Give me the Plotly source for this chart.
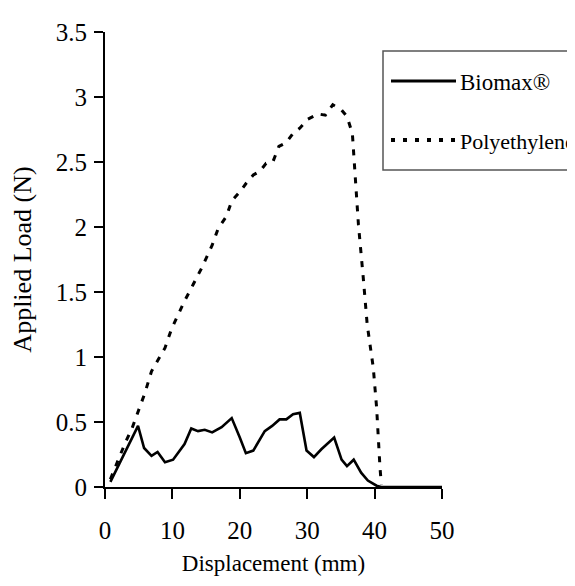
import plotly.graph_objects as go

# Data
biomax_x = [0.8, 4.9, 5.8, 6.9, 7.8, 8.9, 10.1, 11.8, 12.8, 13.8, 14.8, 15.9, 17.3, 18.8,
            20.0, 20.9, 22.0, 23.7, 24.8, 25.9, 26.9, 27.9, 28.9, 29.9, 31.0, 32.1, 34.0,
            35.1, 35.9, 36.9, 38.0, 39.0, 40.3, 41.0, 50.0]
biomax_y = [0.04, 0.47, 0.30, 0.24, 0.27, 0.19, 0.21, 0.33, 0.45, 0.43, 0.44, 0.42, 0.46, 0.53,
            0.38, 0.26, 0.28, 0.43, 0.47, 0.52, 0.52, 0.56, 0.57, 0.28, 0.23, 0.29, 0.38,
            0.21, 0.16, 0.21, 0.11, 0.05, 0.01, 0.0, 0.0]

poly_x = [0.8, 2.0, 3.0, 4.0, 4.9, 5.9, 6.9, 8.9, 9.9, 11.8, 13.1, 14.3, 15.9, 16.8, 18.0,
          18.8, 20.0, 21.0, 22.0, 23.0, 23.9, 24.9, 25.8, 26.9, 27.9, 28.9, 30.1, 31.6,
          32.7, 33.8, 35.1, 35.9, 36.7, 37.0, 37.6, 38.3, 38.9, 39.8, 40.3, 40.8, 41.0]
poly_y = [0.06, 0.22, 0.34, 0.45, 0.58, 0.72, 0.89, 1.07, 1.22, 1.43, 1.56, 1.68, 1.86, 1.99, 2.08,
          2.20, 2.27, 2.34, 2.40, 2.43, 2.49, 2.50, 2.62, 2.65, 2.72, 2.76, 2.83, 2.87,
          2.86, 2.94, 2.90, 2.85, 2.72, 2.50, 2.02, 1.62, 1.25, 0.92, 0.61, 0.15, 0.02]

x_ticks = [0, 10, 20, 30, 40, 50]
y_ticks = [0, 0.5, 1, 1.5, 2, 2.5, 3, 3.5]
series_names = ["Biomax®", "Polyethylene"]

FONT = "Liberation Serif"

fig = go.Figure()
fig.add_trace(go.Scatter(x=biomax_x, y=biomax_y, mode="lines", name=series_names[0],
                         line=dict(color="black", width=2.6), showlegend=False))
fig.add_trace(go.Scatter(x=poly_x, y=poly_y, mode="lines", name=series_names[1],
                         line=dict(color="black", width=3, dash="6px,8px"), showlegend=False))

# plot area in pixels
L, R, T, B = 97, 434, 24, 479
W, H = 575, 586

def px2x(px):
    return (px - L) / (R - L)

def py2y(py):
    return (B - py) / (B - T)

# manual legend
shapes = [
    dict(type="rect", xref="paper", yref="paper", x0=px2x(375), x1=px2x(590),
         y0=py2y(162), y1=py2y(43), line=dict(color="#555", width=1.5)),
    dict(type="line", xref="paper", yref="paper", x0=px2x(383), x1=px2x(448),
         y0=py2y(73), y1=py2y(73), line=dict(color="black", width=3)),
    dict(type="line", xref="paper", yref="paper", x0=px2x(383), x1=px2x(448),
         y0=py2y(132), y1=py2y(132), line=dict(color="black", width=4, dash="4px,8px")),
]
annotations = [
    dict(text=series_names[0], xref="paper", yref="paper", x=px2x(450), y=py2y(74),
         xanchor="left", yanchor="middle", showarrow=False,
         font=dict(family=FONT, size=23, color="black")),
    dict(text=series_names[1], xref="paper", yref="paper", x=px2x(450), y=py2y(133),
         xanchor="left", yanchor="middle", showarrow=False,
         font=dict(family=FONT, size=22, color="black")),
]

fig.update_layout(
    width=W, height=H,
    margin=dict(l=L, r=W - R, t=T, b=H - B, autoexpand=False),
    paper_bgcolor="white", plot_bgcolor="white",
    font=dict(family=FONT, color="black"),
    shapes=shapes, annotations=annotations,
    xaxis=dict(range=[0, 50], tickvals=x_ticks, ticktext=[str(v) for v in x_ticks],
               showgrid=False, zeroline=False, showline=True, linecolor="black", linewidth=2,
               ticks="outside", ticklen=10, tickwidth=2, tickcolor="black",
               tickfont=dict(family=FONT, size=25), ticklabelstandoff=10,
               title=dict(text="Displacement (mm)", font=dict(family=FONT, size=23), standoff=12),
               automargin=False),
    yaxis=dict(range=[0, 3.5], tickvals=y_ticks, ticktext=[f"{v:g}" for v in y_ticks],
               showgrid=False, zeroline=False, showline=True, linecolor="black", linewidth=2,
               ticks="outside", ticklen=9, tickwidth=2, tickcolor="black",
               tickfont=dict(family=FONT, size=25), ticklabelstandoff=2,
               title=dict(text="Applied Load (N)", font=dict(family=FONT, size=26), standoff=24),
               automargin=False),
)

fig.write_html("out.html")
